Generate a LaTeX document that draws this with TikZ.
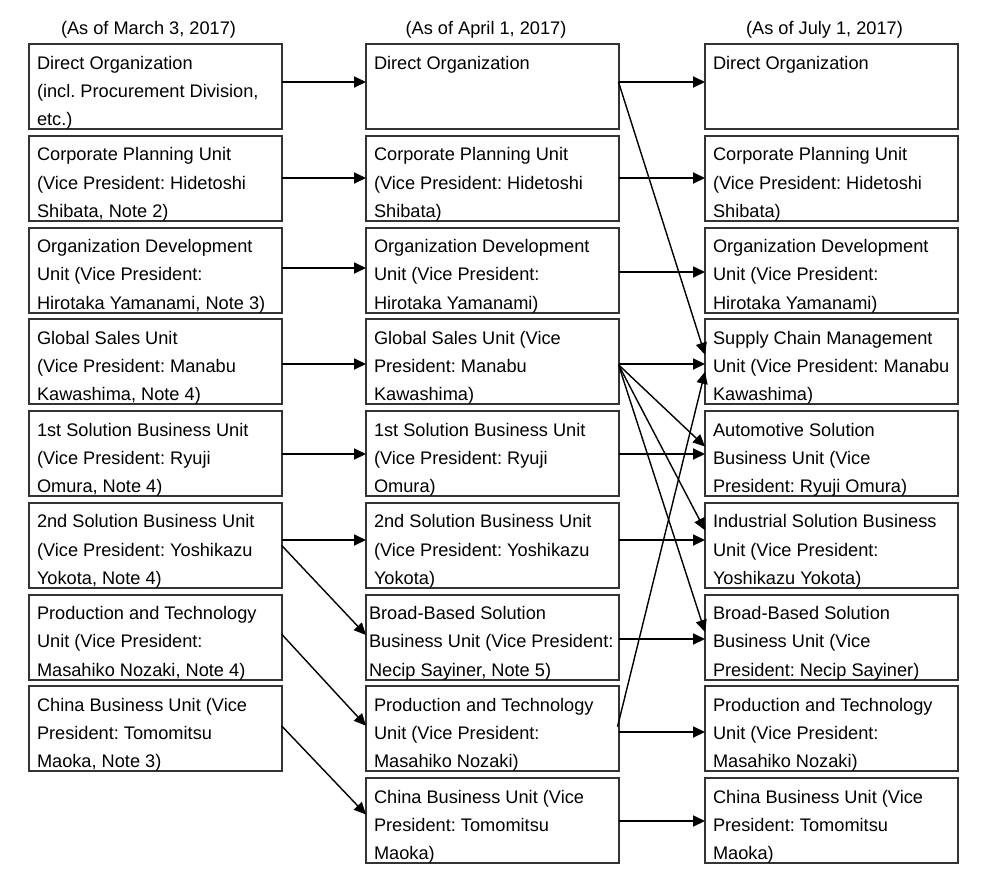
\documentclass[tikz,border=0pt]{standalone}
\usepackage{fontspec}
\setmainfont{Liberation Sans}
\usetikzlibrary{arrows.meta,calc}
\frenchspacing
\newcommand{\orgbox}[5]{% name, left x, row, xoff, text
  \node[orgrect] (#1) at (#2,{44+91.75*#3}) {};
  \node[orgtxt] (#1t) at ([xshift=#4pt,yshift=-25pt]#1.north west)
    {\parbox[t]{262pt}{\frenchspacing\fontsize{18.2pt}{28.3pt}\selectfont\raggedright #5}};
}
\begin{document}
\begin{tikzpicture}[x=1pt,y=-1pt,
  orgrect/.style={draw=black!80,line width=2pt,anchor=north west,minimum width=252.5pt,minimum height=85pt,inner sep=0pt,outer sep=0pt},
  orgtxt/.style={anchor=base west,inner sep=0pt,outer sep=0pt,text=black},
  hdr/.style={anchor=base,inner sep=0pt,font=\fontsize{18.2pt}{22pt}\selectfont},
  arr/.style={draw=black,line width=1.8pt,-{Triangle[length=12pt,width=11pt]}},
  darr/.style={draw=black,line width=1.4pt,-{Triangle[length=12pt,width=11pt]}}]
\useasboundingbox (0,0) rectangle (1000,886);
\fill[white] (0,0) rectangle (1000,886);
% headers
\node[hdr] (h1) at (148.5,34) {(As of March 3, 2017)};
\node[hdr] (h2) at (486,34) {(As of April 1, 2017)};
\node[hdr] (h3) at (824.5,34) {(As of July 1, 2017)};
% column 1
\orgbox{a1}{29}{0}{8}{Direct Organization\\(incl. Procurement Division,\\etc.)}
\orgbox{a2}{29}{1}{8}{Corporate Planning Unit\\(Vice President: Hidetoshi\\Shibata, Note 2)}
\orgbox{a3}{29}{2}{8}{Organization Development\\Unit (Vice President:\\Hirotaka Yamanami, Note 3)}
\orgbox{a4}{29}{3}{8}{Global Sales Unit\\(Vice President: Manabu\\Kawashima, Note 4)}
\orgbox{a5}{29}{4}{8}{1st Solution Business Unit\\(Vice President: Ryuji\\Omura, Note 4)}
\orgbox{a6}{29}{5}{8}{2nd Solution Business Unit\\(Vice President: Yoshikazu\\Yokota, Note 4)}
\orgbox{a7}{29}{6}{8}{Production and Technology\\Unit (Vice President:\\Masahiko Nozaki, Note 4)}
\orgbox{a8}{29}{7}{8}{China Business Unit (Vice\\President: Tomomitsu\\Maoka, Note 3)}
% column 2
\orgbox{b1}{366}{0}{8}{Direct Organization}
\orgbox{b2}{366}{1}{8}{Corporate Planning Unit\\(Vice President: Hidetoshi\\Shibata)}
\orgbox{b3}{366}{2}{8}{Organization Development\\Unit (Vice President:\\Hirotaka Yamanami)}
\orgbox{b4}{366}{3}{8}{Global Sales Unit (Vice\\President: Manabu\\Kawashima)}
\orgbox{b5}{366}{4}{8}{1st Solution Business Unit\\(Vice President: Ryuji\\Omura)}
\orgbox{b6}{366}{5}{8}{2nd Solution Business Unit\\(Vice President: Yoshikazu\\Yokota)}
\orgbox{b7}{366}{6}{3}{Broad-Based Solution\\Business Unit (Vice President:\\Necip Sayiner, Note 5)}
\orgbox{b8}{366}{7}{8}{Production and Technology\\Unit (Vice President:\\Masahiko Nozaki)}
\orgbox{b9}{366}{8}{8}{China Business Unit (Vice\\President: Tomomitsu\\Maoka)}
% column 3
\orgbox{c1}{705}{0}{8}{Direct Organization}
\orgbox{c2}{705}{1}{8}{Corporate Planning Unit\\(Vice President: Hidetoshi\\Shibata)}
\orgbox{c3}{705}{2}{8}{Organization Development\\Unit (Vice President:\\Hirotaka Yamanami)}
\orgbox{c4}{705}{3}{8}{Supply Chain Management\\Unit (Vice President: Manabu\\Kawashima)}
\orgbox{c5}{705}{4}{8}{Automotive Solution\\Business Unit (Vice\\President: Ryuji Omura)}
\orgbox{c6}{705}{5}{8}{Industrial Solution Business\\Unit (Vice President:\\Yoshikazu Yokota)}
\orgbox{c7}{705}{6}{8}{Broad-Based Solution\\Business Unit (Vice\\President: Necip Sayiner)}
\orgbox{c8}{705}{7}{8}{Production and Technology\\Unit (Vice President:\\Masahiko Nozaki)}
\orgbox{c9}{705}{8}{8}{China Business Unit (Vice\\President: Tomomitsu\\Maoka)}
% col1 -> col2 horizontal
\draw[arr] ([yshift=4.5pt]a1.east) -- ([yshift=4.5pt]b1.west);
\draw[arr] ([yshift=0.25pt]a2.east) -- ([yshift=0.25pt]b2.west);
\draw[arr] ([yshift=2pt]a3.east) -- ([yshift=2pt]b3.west);
\draw[arr] ([yshift=-2.25pt]a4.east) -- ([yshift=-2.25pt]b4.west);
\draw[arr] ([yshift=-0.5pt]a5.east) -- ([yshift=-0.5pt]b5.west);
\draw[arr] ([yshift=5.25pt]a6.east) -- ([yshift=5.25pt]b6.west);
% col1 -> col2 diagonal
\draw[darr] (a6.east) -- ([yshift=2pt]b7.west);
\draw[darr] ([yshift=3pt]a7.east) -- ([yshift=3pt]b8.west);
\draw[darr] ([yshift=3pt]a8.east) -- ([yshift=6pt]b9.west);
% col2 -> col3 horizontal
\draw[arr] ([yshift=4.5pt]b1.east) -- ([yshift=4.5pt]c1.west);
\draw[arr] ([yshift=0.25pt]b2.east) -- ([yshift=0.25pt]c2.west);
\draw[arr] ([yshift=-2pt]b3.east) -- ([yshift=-2pt]c3.west);
\draw[arr] ([yshift=-2.25pt]b4.east) -- ([yshift=-2.25pt]c4.west);
\draw[arr] ([yshift=-0.5pt]b5.east) -- ([yshift=-0.5pt]c5.west);
\draw[arr] ([yshift=5.25pt]b6.east) -- ([yshift=5.25pt]c6.west);
\draw[arr] ([yshift=-2pt]b7.east) -- ([yshift=-2pt]c7.west);
\draw[arr] ([yshift=-3.25pt]b8.east) -- ([yshift=-3.25pt]c8.west);
\draw[arr] ([yshift=-0.5pt]b9.east) -- ([yshift=-0.5pt]c9.west);
% col2 -> col3 diagonal
\draw[darr] ([yshift=4.5pt]b1.east) -- ([yshift=7pt]c4.west);
\draw[darr] ([yshift=-3pt]b4.east) -- ([yshift=7pt]c5.west);
\draw[darr] ([yshift=-3pt]b4.east) -- ([yshift=15pt]c6.west);
\draw[darr] ([yshift=-3pt]b4.east) -- ([yshift=5pt]c7.west);
\draw[darr] ([xshift=-1pt,yshift=2pt]b8.east) -- ([yshift=-10pt]c4.west);
\end{tikzpicture}
\end{document}
